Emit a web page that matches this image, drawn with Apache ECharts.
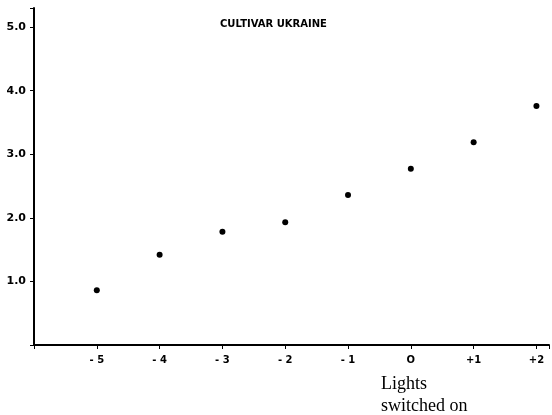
<!DOCTYPE html>
<html>
<head>
<meta charset="utf-8">
<script src="https://cdn.jsdelivr.net/npm/echarts@6/dist/echarts.min.js"></script>
<style>
  html, body { margin: 0; padding: 0; background: #fff; }
  #main { width: 552px; height: 415px; }
</style>
</head>
<body>
<div id="main"></div>
<script>
// hours relative to lights switched on
var hours = [-5, -4, -3, -2, -1, 0, 1, 2];
var values = [0.86, 1.42, 1.78, 1.93, 2.36, 2.77, 3.19, 3.76];
var titleText = 'CULTIVAR UKRAINE';
var noteLines = ['Lights', 'switched on'];

var chart = echarts.init(document.getElementById('main'));

var points = [];
for (var i = 0; i < hours.length; i++) {
  points.push([hours[i], values[i]]);
}

var option = {
  backgroundColor: '#fff',
  animation: false,
  title: {
    text: titleText,
    left: 215,
    top: 14,
    textStyle: {
      fontFamily: 'DejaVu Sans',
      fontSize: 10,
      fontWeight: 'bold',
      color: '#000'
    }
  },
  grid: { left: 34, right: 0, top: 8, bottom: 70 },
  xAxis: {
    type: 'value',
    min: -6,
    max: 2.2,
    interval: 1,
    splitLine: { show: false },
    axisLine: { onZero: false, lineStyle: { color: '#000', width: 2 } },
    axisTick: { length: 4, lineStyle: { color: '#000' } },
    axisLabel: {
      margin: 10,
      fontFamily: 'DejaVu Sans',
      fontSize: 10,
      fontWeight: 'bold',
      color: '#000',
      formatter: function (v) {
        if (v === -6 || Math.round(v) !== v) return '';
        if (v > 0) return '+' + v;
        if (v < 0) return '- ' + Math.abs(v);
        return 'O';
      }
    }
  },
  yAxis: {
    type: 'value',
    min: 0,
    max: 5.3,
    interval: 1,
    splitLine: { show: false },
    axisLine: { show: true, onZero: false, lineStyle: { color: '#000', width: 2 } },
    axisTick: { show: true, length: 4, lineStyle: { color: '#000' } },
    axisLabel: {
      margin: 8,
      fontFamily: 'DejaVu Sans',
      fontSize: 11,
      fontWeight: 'bold',
      color: '#000',
      formatter: function (v) {
        if (v === 0 || Math.round(v) !== v) return '';
        return v.toFixed(1);
      }
    }
  },
  series: [{
    type: 'scatter',
    data: points,
    symbol: 'circle',
    symbolSize: 6,
    itemStyle: { color: '#000', opacity: 1 }
  }],
  graphic: [{
    type: 'text',
    left: 381,
    top: 373,
    style: {
      text: noteLines.join('\n'),
      font: '18px "Liberation Serif"',
      lineHeight: 22,
      fill: '#000'
    }
  }]
};

chart.setOption(option);
</script>
</body>
</html>
